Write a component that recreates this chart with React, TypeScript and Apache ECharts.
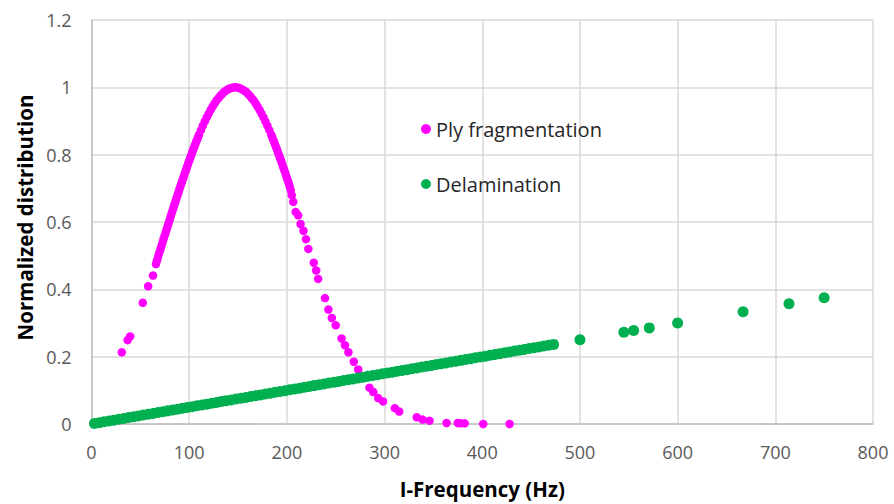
import React, { useEffect, useRef } from "react";
import * as echarts from "echarts";

const plyX = [31, 37, 39.5, 52.5, 58, 63, 66, 67, 68, 69, 70, 71, 72, 73, 74, 75, 76, 77, 78, 79, 80, 81, 82, 83, 84, 85, 86, 87, 88, 89, 90, 91, 92, 93, 94, 95, 96, 97, 98, 99, 100, 101, 102, 103, 104, 105, 106, 107, 108, 109, 110, 112, 114, 116, 118, 120, 122, 124, 126, 128, 130, 132, 134, 136, 138, 140, 142, 144, 146, 148, 150, 152, 154, 156, 158, 160, 162, 164, 166, 168, 170, 172, 174, 176, 178, 180, 182, 184, 185, 186, 187, 188, 189, 190, 191, 192, 193, 194, 195, 196, 197, 198, 199, 200, 201, 202, 203, 204, 205, 206.5, 209, 211.5, 214, 217, 219.5, 222, 227.5, 230, 232, 239, 242.5, 246, 250, 256, 259.5, 263, 268.5, 273, 284.5, 288.5, 293.5, 298.5, 310.5, 315, 333, 339, 346, 363.5, 375, 378, 382, 401, 428];
const plyY = [0.213, 0.249, 0.26, 0.36, 0.409, 0.441, 0.475, 0.485, 0.495, 0.505, 0.514, 0.523, 0.532, 0.542, 0.551, 0.56, 0.569, 0.579, 0.588, 0.597, 0.606, 0.616, 0.625, 0.634, 0.643, 0.652, 0.661, 0.67, 0.679, 0.688, 0.697, 0.706, 0.714, 0.723, 0.731, 0.74, 0.749, 0.757, 0.765, 0.774, 0.782, 0.79, 0.798, 0.806, 0.814, 0.822, 0.829, 0.837, 0.844, 0.851, 0.859, 0.873, 0.886, 0.899, 0.911, 0.922, 0.933, 0.943, 0.952, 0.961, 0.968, 0.975, 0.981, 0.987, 0.991, 0.995, 0.997, 0.999, 1.0, 1.0, 0.999, 0.997, 0.994, 0.991, 0.987, 0.981, 0.975, 0.968, 0.961, 0.952, 0.943, 0.933, 0.922, 0.911, 0.899, 0.886, 0.873, 0.859, 0.852, 0.844, 0.837, 0.829, 0.822, 0.814, 0.806, 0.798, 0.79, 0.782, 0.774, 0.765, 0.757, 0.749, 0.74, 0.731, 0.723, 0.714, 0.704, 0.694, 0.68, 0.66, 0.63, 0.62, 0.594, 0.574, 0.549, 0.52, 0.479, 0.456, 0.431, 0.374, 0.34, 0.315, 0.293, 0.254, 0.234, 0.213, 0.185, 0.162, 0.108, 0.095, 0.077, 0.067, 0.047, 0.037, 0.02, 0.013, 0.01, 0.003, 0.003, 0.002, 0.002, 0.0, 0.0];

const delX = [3, 8, 13, 18, 23, 28, 33, 38, 43, 48, 53, 58, 63, 68, 73, 78, 83, 88, 93, 98, 103, 108, 113, 118, 123, 128, 133, 138, 143, 148, 153, 158, 163, 168, 173, 178, 183, 188, 193, 198, 203, 208, 213, 218, 223, 228, 233, 238, 243, 248, 253, 258, 263, 268, 273, 278, 283, 288, 293, 298, 303, 308, 313, 318, 323, 328, 333, 338, 343, 348, 353, 358, 363, 368, 373, 378, 383, 388, 393, 398, 403, 408, 413, 418, 423, 428, 433, 438, 443, 448, 453, 458, 463, 468, 473, 500, 545, 555, 571, 600, 667, 714, 750];
const delY = [0.0015, 0.004, 0.0065, 0.009, 0.0115, 0.014, 0.0165, 0.019, 0.0215, 0.024, 0.0265, 0.029, 0.0315, 0.034, 0.0365, 0.039, 0.0415, 0.044, 0.0465, 0.049, 0.0515, 0.054, 0.0565, 0.059, 0.0615, 0.064, 0.0665, 0.069, 0.0715, 0.074, 0.0765, 0.079, 0.0815, 0.084, 0.0865, 0.089, 0.0915, 0.094, 0.0965, 0.099, 0.1015, 0.104, 0.1065, 0.109, 0.1115, 0.114, 0.1165, 0.119, 0.1215, 0.124, 0.1265, 0.129, 0.1315, 0.134, 0.1365, 0.139, 0.1415, 0.144, 0.1465, 0.149, 0.1515, 0.154, 0.1565, 0.159, 0.1615, 0.164, 0.1665, 0.169, 0.1715, 0.174, 0.1765, 0.179, 0.1815, 0.184, 0.1865, 0.189, 0.1915, 0.194, 0.1965, 0.199, 0.2015, 0.204, 0.2065, 0.209, 0.2115, 0.214, 0.2165, 0.219, 0.2215, 0.224, 0.2265, 0.229, 0.2315, 0.234, 0.2365, 0.25, 0.2725, 0.2775, 0.2855, 0.3, 0.3335, 0.357, 0.375];

const xTicks = { min: 0, max: 800, interval: 100 };
const yTicks = { min: 0, max: 1.2, interval: 0.2 };

const FONT = "'Open Sans', sans-serif";

export default function App() {
  const ref = useRef<HTMLDivElement>(null);
  useEffect(() => {
    if (!ref.current) return;
    const chart = echarts.init(ref.current, null, { renderer: "svg" });
    chart.setOption({
      animation: false,
      backgroundColor: "#ffffff",
      grid: { left: 91.5, right: 21, top: 20, bottom: 78 },
      legend: {
        orient: "vertical",
        left: 416,
        top: 114,
        itemGap: 35,
        itemWidth: 10,
        itemHeight: 10,
        textStyle: { fontFamily: FONT, fontSize: 20, color: "#262626" },
        data: [
          { name: "Ply fragmentation", icon: "circle", itemStyle: { color: "#ff00ff" } },
          { name: "Delamination", icon: "circle", itemStyle: { color: "#00b050" } },
        ],
      },
      xAxis: {
        type: "value",
        ...xTicks,
        name: "I-Frequency (Hz)",
        nameLocation: "middle",
        nameGap: 54,
        nameTextStyle: { fontFamily: FONT, fontSize: 20.5, fontWeight: "bold", color: "#000" },
        axisLine: { show: true, lineStyle: { color: "#bfbfbf", width: 1.5 } },
        axisTick: { show: false },
        splitLine: { show: true, lineStyle: { color: "#d9d9d9", width: 1.5 } },
        axisLabel: { fontFamily: FONT, fontSize: 18, color: "#595959", margin: 19 },
      },
      yAxis: {
        type: "value",
        ...yTicks,
        name: "Normalized distribution",
        nameLocation: "middle",
        nameGap: 56,
        nameTextStyle: { fontFamily: FONT, fontSize: 20.5, fontWeight: "bold", color: "#000", padding: [0, 0, 0, 9] },
        axisLine: { show: true, lineStyle: { color: "#bfbfbf", width: 1.5 } },
        axisTick: { show: false },
        splitLine: { show: true, lineStyle: { color: "#d9d9d9", width: 1.5 } },
        axisLabel: { fontFamily: FONT, fontSize: 18, color: "#595959", margin: 20 },
      },
      series: [
        {
          name: "Ply fragmentation",
          type: "scatter",
          symbol: "circle",
          symbolSize: 8.5,
          itemStyle: { color: "#ff00ff", opacity: 1 },
          data: plyX.map((x, i) => [x, plyY[i]]),
        },
        {
          name: "Delamination",
          type: "scatter",
          symbol: "circle",
          symbolSize: 11,
          itemStyle: { color: "#00b050", opacity: 1 },
          data: delX.map((x, i) => [x, delY[i]]),
        },
      ],
    });
    return () => chart.dispose();
  }, []);
  return <div ref={ref} style={{ width: 894, height: 504, position: "absolute", left: 0, top: 0 }} />;
}
